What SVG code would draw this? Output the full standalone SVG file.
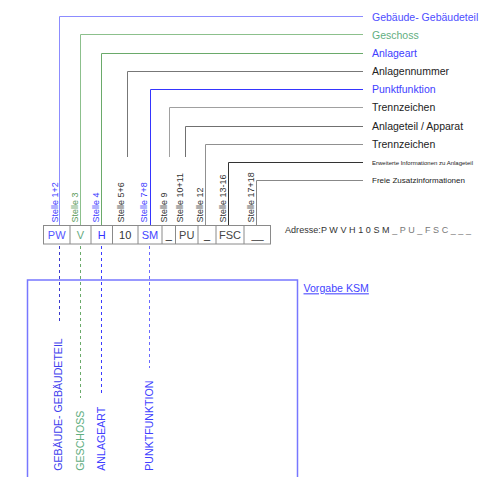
<svg xmlns="http://www.w3.org/2000/svg" width="496" height="477" viewBox="0 0 496 477">
<style>
text{font-family:"Liberation Sans",Arial,sans-serif}
.lbl{font-size:10.5px}
.stl{font-size:9px}
.cell{font-size:11px;text-anchor:middle}
.cl{fill:none;stroke-width:1}
.dash{fill:none;stroke-width:1;stroke-dasharray:3 3}
.box{fill:#fff;stroke:#8a8a8a;stroke-width:1}
.vl{font-size:10.6px}
</style>
<rect width="496" height="477" fill="#fff"/>
<g id="connectors">
<polyline class="cl" stroke="#8c8cff" points="59.5,225.5 59.5,16.5 363,16.5"/>
<polyline class="cl" stroke="#8cc08c" points="80.5,225.5 80.5,34.5 363,34.5"/>
<polyline class="cl" stroke="#6aaa6a" points="101.5,225.5 101.5,53.5 363,53.5"/>
<polyline class="cl" stroke="#777" points="127.5,157 127.5,71.5 363,71.5"/>
<polyline class="cl" stroke="#3535ff" points="150.5,225.5 150.5,89.5 363,89.5"/>
<polyline class="cl" stroke="#a0a0a0" points="169.5,157 169.5,107.5 363,107.5"/>
<polyline class="cl" stroke="#707070" points="185.5,157 185.5,126.5 363,126.5"/>
<polyline class="cl" stroke="#909090" points="205.5,225.5 205.5,144.5 363,144.5"/>
<polyline class="cl" stroke="#333" points="228.5,225.5 228.5,162.5 363,162.5"/>
<polyline class="cl" stroke="#888" points="256.5,225.5 256.5,180.5 363,180.5"/>
<line class="dash" stroke="#3a3acc" x1="59.5" y1="246" x2="59.5" y2="322"/>
<line class="dash" stroke="#6aaa6a" x1="80.5" y1="246" x2="80.5" y2="398"/>
<line class="dash" stroke="#3a3aff" x1="101.5" y1="246" x2="101.5" y2="395"/>
<line class="dash" stroke="#6a6aff" x1="149.5" y1="246" x2="149.5" y2="368"/>
</g>
<g id="labels">
<text class="lbl" x="372" y="20.5" fill="#4d4dff">Gebäude- Gebäudeteil</text>
<text class="lbl" x="372" y="38.5" fill="#5fae7f">Geschoss</text>
<text class="lbl" x="372" y="57" fill="#4040ff">Anlageart</text>
<text class="lbl" x="372" y="75" fill="#222">Anlagennummer</text>
<text class="lbl" x="372" y="93" fill="#4040ff">Punktfunktion</text>
<text class="lbl" x="372" y="111" fill="#222">Trennzeichen</text>
<text class="lbl" x="372" y="130" fill="#222">Anlageteil / Apparat</text>
<text class="lbl" x="372" y="148" fill="#222">Trennzeichen</text>
<text x="372" y="164.5" fill="#222" font-size="5.5" textLength="101" lengthAdjust="spacingAndGlyphs">Erweiterte Informationen zu Anlageteil</text>
<text x="372" y="183" fill="#222" font-size="8">Freie Zusatzinformationen</text>
</g>
<g id="stellen" class="stl">
<text transform="translate(57.5,222.5) rotate(-90)" fill="#4040ff">Stelle 1+2</text>
<text transform="translate(78,222.5) rotate(-90)" fill="#5a9a5a">Stelle 3</text>
<text transform="translate(98.5,222.5) rotate(-90)" fill="#4040ff">Stelle 4</text>
<text transform="translate(124,222.5) rotate(-90)" fill="#333">Stelle 5+6</text>
<text transform="translate(147,222.5) rotate(-90)" fill="#4040ff">Stelle 7+8</text>
<text transform="translate(167,222.5) rotate(-90)" fill="#333">Stelle 9</text>
<text transform="translate(182.7,222.5) rotate(-90)" fill="#333">Stelle 10+11</text>
<text transform="translate(202.7,222.5) rotate(-90)" fill="#333">Stelle 12</text>
<text transform="translate(226,222.5) rotate(-90)" fill="#333">Stelle 13-16</text>
<text transform="translate(253.5,222.5) rotate(-90)" fill="#333">Stelle 17+18</text>
</g>
<g id="cells">
<rect class="box" x="43.5" y="225.5" width="227" height="18.5"/>
<path stroke="#8a8a8a" stroke-width="1" d="M70,225.5V244M91,225.5V244M112.5,225.5V244M138,225.5V244M162,225.5V244M175.5,225.5V244M198,225.5V244M216,225.5V244M244,225.5V244"/>
<text class="cell" x="56.7" y="239" fill="#5555ff">PW</text>
<text class="cell" x="80.5" y="239" fill="#66aa80">V</text>
<text class="cell" x="101.7" y="239" fill="#3333ff">H</text>
<text class="cell" x="125.2" y="239" fill="#333">10</text>
<text class="cell" x="150" y="239" fill="#4444ff">SM</text>
<text class="cell" x="168.7" y="239" fill="#111">_</text>
<text class="cell" x="186.7" y="239" fill="#444">PU</text>
<text class="cell" x="207" y="239" fill="#111">_</text>
<text class="cell" x="230" y="239" fill="#444">FSC</text>
<text class="cell" x="257.5" y="239" fill="#333">__</text>
</g>
<g id="address">
<text x="285" y="233" font-size="9" fill="#333" textLength="186" lengthAdjust="spacing">Adresse:P W V H 1 0 S M<tspan fill="#777"> _ P U _ F S C _ _ _</tspan></text>
</g>
<g id="vorgabe">
<rect x="27.5" y="280" width="270" height="220" fill="none" stroke="#7777ff" stroke-width="1.5"/>
<text x="303.5" y="292.3" font-size="10.6" fill="#4444ff" text-decoration="underline">Vorgabe KSM</text>
<text class="vl" transform="translate(62,470.7) rotate(-90)" fill="#4040ee">GEBÄUDE- GEBÄUDETEIL</text>
<text class="vl" transform="translate(83.5,470.7) rotate(-90)" fill="#5fae7f">GESCHOSS</text>
<text class="vl" transform="translate(105,470.7) rotate(-90)" fill="#4040ff">ANLAGEART</text>
<text class="vl" transform="translate(152.5,470.7) rotate(-90)" fill="#4040ff">PUNKTFUNKTION</text>
</g>
</svg>
